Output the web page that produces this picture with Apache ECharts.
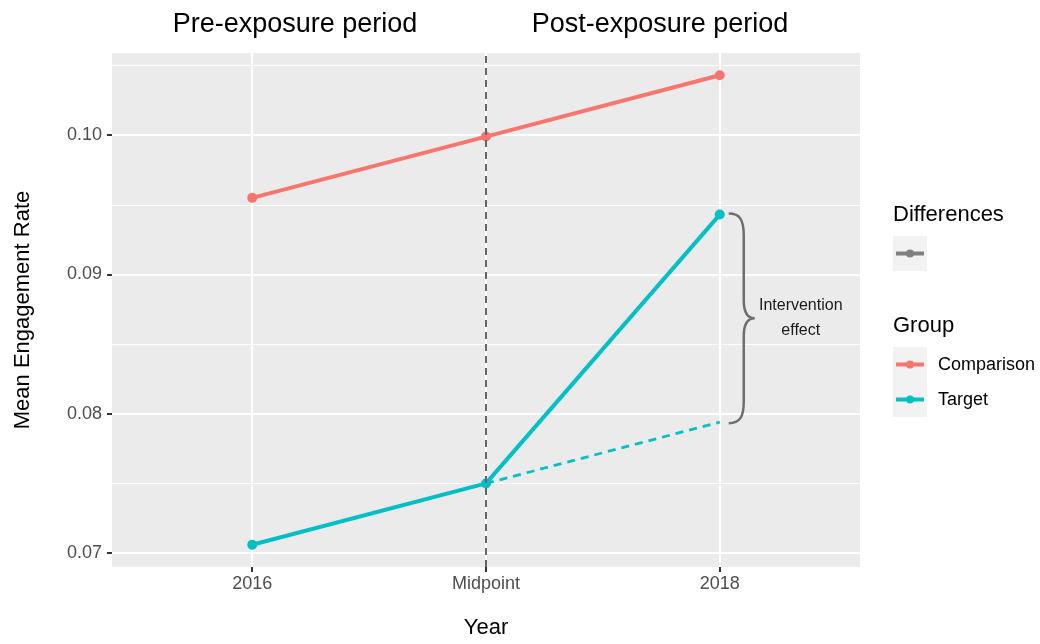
<!DOCTYPE html>
<html>
<head>
<meta charset="utf-8">
<script src="https://cdn.jsdelivr.net/npm/echarts@6/dist/echarts.min.js"></script>
<style>
  html, body { margin:0; padding:0; background:#fff; }
  #chart { width:1040px; height:644px; }
</style>
</head>
<body>
<div id="chart"></div>
<script>
const periods = ['2016', 'Midpoint', '2018']
const comparisonValues = [0.0955, 0.0999, 0.1043]
const targetValues = [0.0706, 0.0750, 0.0943]
const counterfactualValues = [0.0750, 0.0794]   // Midpoint -> 2018, no intervention
const yMajorTicks = [0.07, 0.08, 0.09, 0.10]
const yMinorTicks = [0.075, 0.085, 0.095, 0.105]

const FONT = '"Liberation Sans", Arial, sans-serif'
const RED = '#F8766D'
const TEAL = '#00BFC4'
const GREY = '#6e6e6e'

const toPairs = (vals, start=1) => vals.map((v, i) => [start + i, v])

const chart = echarts.init(document.getElementById('chart'), null, { renderer: 'canvas' })

function braceItem(params, api){
  const top = api.coord([api.value(0), api.value(1)])
  const bot = api.coord([api.value(0), api.value(2)])
  const x0 = top[0] + 9
  const x1 = x0 + 15
  const tip = x1 + 11
  const y0 = top[1] - 1
  const y1 = bot[1] + 1
  const ym = (y0 + y1) / 2
  const d = [
    `M${x0} ${y0}`,
    `C${x0 + 11} ${y0} ${x1} ${y0 + 6} ${x1} ${y0 + 22}`,
    `L${x1} ${ym - 18}`,
    `C${x1} ${ym - 5} ${x1 + 4} ${ym} ${tip} ${ym}`,
    `C${x1 + 4} ${ym} ${x1} ${ym + 5} ${x1} ${ym + 18}`,
    `L${x1} ${y1 - 22}`,
    `C${x1} ${y1 - 6} ${x0 + 11} ${y1} ${x0} ${y1}`,
  ].join(' ')
  return {
    type: 'group',
    children: [
      { type: 'path', shape: { pathData: d }, style: { fill: 'none', stroke: GREY, lineWidth: 2.5 } },
      { type: 'text', x: tip + 46, y: ym, style: {
        text: 'Intervention\neffect', fill: '#1a1a1a', font: `16px ${FONT}`,
        align: 'center', verticalAlign: 'middle', lineHeight: 25 } },
    ],
  }
}

function legendKey(y, color){
  return [
    { type: 'rect', shape: { x: 893, y, width: 34, height: 35 }, style: { fill: '#f2f2f2' } },
    { type: 'line', shape: { x1: 896, y1: y + 17.5, x2: 924, y2: y + 17.5 }, style: { stroke: color, lineWidth: 4 } },
    { type: 'circle', shape: { cx: 910, cy: y + 17.5, r: 4 }, style: { fill: color } },
  ]
}

chart.setOption({
  backgroundColor: '#fff',
  animation: false,
  textStyle: { fontFamily: FONT },
  grid: { left: 112, right: 180, top: 53, bottom: 77, show: true, backgroundColor: '#EBEBEB', borderWidth: 0 },
  xAxis: {
    type: 'value', min: 0.4, max: 3.6,
    name: 'Year', nameLocation: 'middle', nameGap: 50,
    nameTextStyle: { fontSize: 22, color: '#000' },
    axisLine: { show: false },
    axisTick: { show: true, length: 5, lineStyle: { color: '#333', width: 2 }, customValues: [1, 2, 3] },
    axisLabel: { customValues: [1, 2, 3], formatter: v => periods[Math.round(v) - 1] || '', fontSize: 18, color: '#4d4d4d', margin: 8 },
    splitLine: { show: true, lineStyle: { color: '#fff', width: 2 } },
  },
  yAxis: [{
    type: 'value', min: 0.069, max: 0.1059,
    name: 'Mean Engagement Rate', nameLocation: 'middle', nameGap: 78,
    nameTextStyle: { fontSize: 22, color: '#000' },
    axisLine: { show: false },
    axisTick: { show: true, length: 5, lineStyle: { color: '#333', width: 2 }, customValues: yMajorTicks },
    axisLabel: { customValues: yMajorTicks, formatter: v => v.toFixed(2), fontSize: 18, color: '#4d4d4d', margin: 10 },
    splitLine: { show: true, lineStyle: { color: '#fff', width: 2 } },
  }, {
    type: 'value', min: 0.069, max: 0.1059, position: 'left',
    axisLine: { show: false },
    axisTick: { show: false, customValues: yMinorTicks },
    axisLabel: { show: false, customValues: yMinorTicks },
    splitLine: { show: true, lineStyle: { color: '#fff', width: 1.2 } },
  }],
  graphic: [
    { type: 'text', x: 295, y: 25, style: { text: 'Pre-exposure period', font: `27px ${FONT}`, fill: '#000', align: 'center', verticalAlign: 'middle' } },
    { type: 'text', x: 660, y: 25, style: { text: 'Post-exposure period', font: `27px ${FONT}`, fill: '#000', align: 'center', verticalAlign: 'middle' } },
    { type: 'text', x: 893, y: 215, style: { text: 'Differences', font: `22px ${FONT}`, fill: '#000', verticalAlign: 'middle' } },
    ...legendKey(236, '#7f7f7f'),
    { type: 'text', x: 893, y: 326, style: { text: 'Group', font: `22px ${FONT}`, fill: '#000', verticalAlign: 'middle' } },
    ...legendKey(347, RED),
    ...legendKey(382, TEAL),
    { type: 'text', x: 938, y: 365, style: { text: 'Comparison', font: `18px ${FONT}`, fill: '#000', verticalAlign: 'middle' } },
    { type: 'text', x: 938, y: 400, style: { text: 'Target', font: `18px ${FONT}`, fill: '#000', verticalAlign: 'middle' } },
  ],
  series: [
    {
      name: 'Counterfactual', type: 'line', z: 1,
      data: toPairs(counterfactualValues, 2),
      showSymbol: false, symbol: 'none',
      lineStyle: { color: TEAL, width: 2.8, type: [8, 6] },
      markLine: {
        silent: true, symbol: ['none', 'none'], label: { show: false },
        lineStyle: { color: '#666', width: 2, type: [7, 5] },
        data: [{ xAxis: 2 }],
      },
    },
    {
      name: 'Comparison', type: 'line', z: 3,
      data: toPairs(comparisonValues),
      symbol: 'circle', symbolSize: 10,
      itemStyle: { color: RED }, lineStyle: { color: RED, width: 4 },
    },
    {
      name: 'Target', type: 'line', z: 3,
      data: toPairs(targetValues),
      symbol: 'circle', symbolSize: 10,
      itemStyle: { color: TEAL }, lineStyle: { color: TEAL, width: 4 },
    },
    {
      name: 'Differences', type: 'custom', z: 2,
      renderItem: braceItem,
      data: [[3, targetValues[2], counterfactualValues[1]]],
    },
  ],
})
</script>
</body>
</html>
